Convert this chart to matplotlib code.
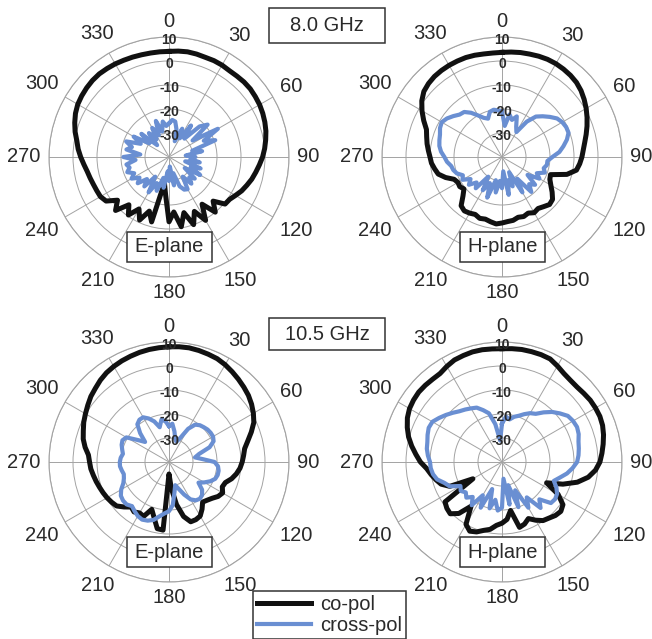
import numpy as np
import matplotlib
matplotlib.use("Agg")
import matplotlib.pyplot as plt
from matplotlib.patches import Rectangle

plt.rcParams["font.family"] = ["Liberation Sans", "DejaVu Sans"]

# ---------------------------------------------------------------- data
# measured patterns in dB, sampled every 5 degrees from 0 to 355 (clockwise from boresight)
angles_deg = np.arange(0, 360, 5)

e80_co = [4.0, 4.3, 4.5, 4.4, 4.2, 4.3, 4.2, 3.9, 4.0, 4.2, 4.2, 3.9,
          3.6, 3.1, 2.5, 1.8, 0.9, 0.0, -1.0, -2.2, -3.3, -4.3, -5.5, -6.6,
          -8.0, -9.2, -9.5, -14.0, -10.0, -16.0, -9.5, -15.0, -10.0, -16.0, -10.5, -17.0,
          -13.0, -24.0, -29.0, -12.0, -16.0, -11.0, -15.0, -10.5, -14.0, -8.5, -12.0, -8.0,
          -7.0, -6.8, -6.5, -6.0, -5.4, -4.4, -3.2, -2.0, -1.0, 0.5, 1.8, 3.0,
          3.9, 4.4, 4.8, 5.1, 5.2, 5.0, 4.8, 4.5, 4.3, 4.1, 4.0, 4.0]
e80_cross = [-26, -24.5, -25, -28, -33, -27, -31, -24, -30, -22, -19, -28,
             -16.5, -24, -19.5, -30, -26, -33, -29, -31, -27, -33, -26, -30,
             -25, -32, -26, -28, -25.5, -30, -24.5, -25, -27, -33, -28, -36,
             -30, -34, -27, -31, -25, -28, -23, -30, -24, -27, -23, -25,
             -22, -24, -21.5, -23, -22, -26, -21, -28, -22, -24, -21, -27,
             -23, -30, -25, -33, -27, -31, -26, -30, -24, -29, -25, -27]

h80_co = [3.6, 3.9, 4.2, 4.4, 4.7, 4.9, 4.9, 4.7, 4.4, 3.9, 3.0, 1.8,
          0.5, -0.9, -2.3, -3.7, -5.0, -6.0, -6.7, -7.5, -8.5, -12.0, -18.5, -18.0,
          -16.5, -14.5, -12.5, -12.0, -13.0, -13.8, -13.2, -14.2, -13.6, -14.0, -13.2, -13.0,
          -12.5, -12.0, -12.6, -13.2, -12.8, -13.6, -13.0, -12.6, -13.5, -17.0, -19.3, -18.5,
          -18.8, -18.0, -15.0, -12.5, -11.5, -10.5, -10.0, -9.2, -8.3, -7.5, -6.5, -4.0,
          -1.5, 0.8, 2.5, 3.3, 3.8, 4.0, 4.1, 4.1, 4.1, 3.9, 3.6, 3.5]
h80_cross = [-21, -27, -22, -24, -22, -26, -28, -22, -18, -16, -14, -12,
             -11, -10.5, -10.5, -12, -14, -16, -19, -21, -21, -22, -21, -24,
             -22, -27, -22, -24, -21, -29, -23, -33, -27, -30, -24, -34,
             -27, -30, -25, -30, -22, -28, -24, -30, -23, -25, -22, -24,
             -21, -22, -20, -19, -18.5, -17, -16, -14.5, -13.5, -13, -12.5, -11.5,
             -11, -12, -13.5, -15, -15.5, -17.5, -20, -22, -23, -20.5, -20, -20.5]

e105_co = [8.0, 8.2, 8.3, 8.1, 7.8, 7.5, 6.8, 5.9, 5.0, 4.1, 3.2, 2.0,
           0.6, -1.0, -3.5, -6.0, -8.0, -8.8, -9.5, -10.3, -11.5, -13.0, -15.0, -15.5,
           -14.2, -15.0, -16.5, -17.5, -18.2, -16.0, -14.0, -13.5, -13.5, -16.5, -22.0, -29.0,
           -35.0, -11.5, -11.8, -16.0, -19.0, -15.0, -15.5, -14.6, -15.5, -13.5, -11.5, -10.8,
           -10.2, -9.7, -9.2, -8.6, -8.0, -7.3, -6.9, -6.3, -4.5, -3.0, -2.0, -0.8,
           0.2, 1.3, 2.5, 3.4, 4.5, 5.4, 6.0, 6.5, 6.9, 7.3, 7.6, 7.8]
e105_cross = [-25, -24, -27, -30, -31, -29, -24, -21, -20, -19.5, -19, -18.8,
              -18.8, -19.5, -22, -27, -29, -26, -21, -19.5, -19, -19, -19.5, -21,
              -23, -25, -22, -20.5, -20, -20.5, -22, -25, -28, -30, -27, -22,
              -19.5, -18.5, -17, -15, -14, -13.5, -14, -15, -16, -15, -15, -15.5,
              -17, -19, -20, -20.5, -20, -19.5, -19.5, -19.8, -20.5, -19.8, -19, -18.6,
              -19.5, -24, -27, -23, -19.5, -18.5, -18.5, -20, -22, -25, -22, -23]

h105_co = [7.2, 7.4, 7.6, 7.6, 7.6, 7.4, 6.2, 5.0, 4.4, 4.2, 4.5, 4.9,
           5.0, 5.0, 4.6, 3.8, 2.8, 1.8, 0.8, -0.9, -3.5, -7.5, -13.0, -19.5,
           -13.0, -9.0, -8.0, -8.5, -9.5, -10.2, -12.0, -14.0, -12.5, -11.8, -19.5, -16.0,
           -14.5, -13.5, -11.5, -10.5, -9.0, -8.2, -10.0, -17.5, -12.0, -9.5, -10.0, -11.0,
           -26.0, -16.0, -13.0, -11.5, -10.0, -8.5, -6.0, -4.0, -1.8, 0.3, 2.0, 3.5,
           4.5, 5.0, 5.3, 5.2, 5.0, 5.0, 6.0, 6.9, 7.2, 7.5, 7.5, 7.3]
h105_cross = [-24, -21, -22, -20.5, -19.5, -18, -16.5, -15.5, -13, -10.5, -8.5, -6.5,
              -5.8, -5.5, -6.0, -7.0, -7.5, -8.0, -8.7, -10.5, -12.5, -15, -17, -15,
              -13.5, -13, -13.4, -18, -15, -22, -18, -27, -20, -30, -22, -33,
              -21, -19.7, -24, -20, -28, -19, -24, -18, -21, -19, -20.3, -19,
              -20, -16, -14.5, -12, -10.8, -10.2, -10, -9, -8.2, -7.8, -7.0, -6.3,
              -6.5, -8.0, -9.5, -11, -12.4, -13.3, -14.2, -15, -17, -19, -24, -31]

r_ticks = [-30, -20, -10, 0, 10]
r_limits = (-40, 10)
theta_ticks = np.arange(0, 360, 30)
freq_labels = ["8.0 GHz", "10.5 GHz"]
plane_labels = ["E-plane", "H-plane"]
series_labels = ["co-pol", "cross-pol"]

panels = [
    (e80_co, e80_cross, plane_labels[0]),
    (h80_co, h80_cross, plane_labels[1]),
    (e105_co, e105_cross, plane_labels[0]),
    (h105_co, h105_cross, plane_labels[1]),
]

# ---------------------------------------------------------------- style
W, H = 652, 639
CO_COLOR = "#111111"
CROSS_COLOR = "#6a8fd2"
GRID_COLOR = "#a3a3a3"
TEXT_COLOR = "#2a2a2a"
R_PX = 120
centers = [(169, 157), (502, 157), (169, 462), (502, 462)]

fig = plt.figure(figsize=(W / 100, H / 100), dpi=100)


def fig_xy(px, py):
    return px / W, 1 - py / H


def closed(values):
    th = np.deg2rad(np.append(angles_deg, 360))
    return th, np.append(values, values[0])


def boxed_text(x0, y0, x1, y1, text):
    fx0, fy1 = fig_xy(x0, y0)
    fx1, fy0 = fig_xy(x1, y1)
    fig.add_artist(Rectangle((fx0, fy0), fx1 - fx0, fy1 - fy0, transform=fig.transFigure,
                             fill=True, facecolor="white", edgecolor="#333333", lw=1.1, zorder=5))
    fig.text((fx0 + fx1) / 2, (fy0 + fy1) / 2, text, ha="center", va="center",
             fontsize=14.5, color=TEXT_COLOR, zorder=6)


handles = []
for (co, cross, plane), (cx, cy) in zip(panels, centers):
    rect = [(cx - R_PX) / W, (H - cy - R_PX) / H, 2 * R_PX / W, 2 * R_PX / H]
    ax = fig.add_axes(rect, projection="polar")
    ax.set_theta_zero_location("N")
    ax.set_theta_direction(-1)
    ax.set_ylim(*r_limits)
    ax.set_yticks(r_ticks)
    ax.set_yticklabels([])
    ax.set_xticks(np.deg2rad(theta_ticks))
    ax.set_xticklabels([])
    ax.tick_params(length=0)
    ax.grid(True, color=GRID_COLOR, lw=0.7)
    ax.spines["polar"].set_color(GRID_COLOR)
    ax.spines["polar"].set_linewidth(0.8)
    ax.set_facecolor("none")

    th, r = closed(co)
    h_co, = ax.plot(th, r, color=CO_COLOR, lw=3.6, solid_joinstyle="round", zorder=3)
    th, r = closed(cross)
    h_cross, = ax.plot(th, r, color=CROSS_COLOR, lw=3.0, solid_joinstyle="round", zorder=4)
    handles = [h_co, h_cross]

    # radial scale labels along the 0-degree spoke
    for rv in r_ticks:
        ax.text(0, rv - 1.2, f"{rv}", ha="center", va="center", fontsize=10,
                fontweight="bold", color=TEXT_COLOR, zorder=5)

    # angle labels around the rim
    for a in theta_ticks:
        lab = f"{a}"
        half_w = 5.7 * len(lab)
        half_h = 7.5
        s, c = np.sin(np.deg2rad(a)), np.cos(np.deg2rad(a))
        d = R_PX + 8 + half_w * abs(s) + half_h * abs(c)
        ax.text(0.5 + d * s / (2 * R_PX), 0.5 + d * c / (2 * R_PX), lab,
                transform=ax.transAxes, ha="center", va="center", fontsize=14.5,
                color=TEXT_COLOR, clip_on=False)

    boxed_text(cx - 42, cy + 75, cx + 43, cy + 105, plane)

boxed_text(269, 8, 385, 43, freq_labels[0])
boxed_text(269, 318, 385, 350, freq_labels[1])

leg = fig.legend(handles, series_labels, loc="upper left",
                 bbox_to_anchor=fig_xy(253, 591), borderaxespad=0,
                 fontsize=14.5, handlelength=2.7, handletextpad=0.45,
                 borderpad=0.2, labelspacing=0.12, frameon=True, fancybox=False,
                 edgecolor="#333333", framealpha=1)
leg.get_frame().set_linewidth(1.1)
for t in leg.get_texts():
    t.set_color(TEXT_COLOR)

fig.savefig("out.png", dpi=100, facecolor="white")
